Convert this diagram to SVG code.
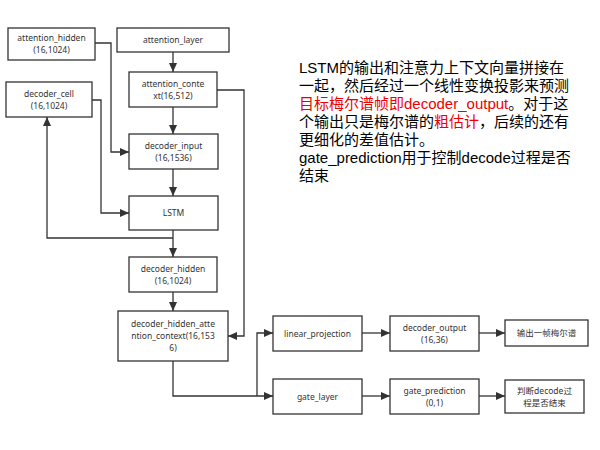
<svg xmlns="http://www.w3.org/2000/svg" width="600" height="450" viewBox="0 0 600 450">
<style>
.box{fill:#fff;stroke:#333;stroke-width:1.3}
.t{font-family:"Noto Sans","Open Sans","Noto Sans CJK SC",sans-serif;font-size:8.5px;fill:#333;text-anchor:middle}
.c{fill:none;stroke:#333;stroke-width:1.3}
.p{font-family:"Liberation Sans","Noto Sans CJK SC",sans-serif;font-size:15px;fill:#000}
.r{fill:#e00}
</style>
<defs>
<marker id="a" markerUnits="userSpaceOnUse" markerWidth="9" markerHeight="8" refX="9" refY="4" orient="auto">
<path d="M0,0 L9,4 L0,8 z" fill="#333"/>
</marker>
</defs>
<rect width="600" height="450" fill="#fff"/>
<g id="connectors">
<path class="c" d="M173,52 V72" marker-end="url(#a)"/>
<path class="c" d="M173,107 V134" marker-end="url(#a)"/>
<path class="c" d="M173,169 V196" marker-end="url(#a)"/>
<path class="c" d="M173,230 V257" marker-end="url(#a)"/>
<path class="c" d="M173,292 V311" marker-end="url(#a)"/>
<path class="c" d="M95,43 H111 V152 H129" marker-end="url(#a)"/>
<path class="c" d="M92,100 H101 V213 H129" marker-end="url(#a)"/>
<path class="c" d="M173,238 H47 V117" marker-end="url(#a)"/>
<path class="c" d="M217,90 H244 V336 H228" marker-end="url(#a)"/>
<path class="c" d="M173,361 V396 H273" marker-end="url(#a)"/>
<path class="c" d="M257,396 V333 H273" marker-end="url(#a)"/>
<path class="c" d="M362,333 H390" marker-end="url(#a)"/>
<path class="c" d="M479,333 H505" marker-end="url(#a)"/>
<path class="c" d="M362,396 H390" marker-end="url(#a)"/>
<path class="c" d="M479,396 H505" marker-end="url(#a)"/>
</g>
<g id="attention_hidden"><rect class="box" x="8" y="28" width="87" height="32"/><text class="t" x="51.5" y="41">attention_hidden</text><text class="t" x="51.5" y="53">(16,1024)</text></g>
<g id="attention_layer"><rect class="box" x="117" y="28" width="112" height="24"/><text class="t" x="173" y="43">attention_layer</text></g>
<g id="attention_context"><rect class="box" x="129" y="72" width="88" height="35"/><text class="t" x="173" y="86.5">attention_conte</text><text class="t" x="173" y="98.5">xt(16,512)</text></g>
<g id="decoder_cell"><rect class="box" x="6" y="82" width="86" height="35"/><text class="t" x="49" y="96.5">decoder_cell</text><text class="t" x="49" y="108.5">(16,1024)</text></g>
<g id="decoder_input"><rect class="box" x="129" y="134" width="89" height="35"/><text class="t" x="173.5" y="148.5">decoder_input</text><text class="t" x="173.5" y="160.5">(16,1536)</text></g>
<g id="lstm"><rect class="box" x="129" y="196" width="89" height="34"/><text class="t" x="173.5" y="216">LSTM</text></g>
<g id="decoder_hidden"><rect class="box" x="129" y="257" width="88" height="35"/><text class="t" x="173" y="271.5">decoder_hidden</text><text class="t" x="173" y="283.5">(16,1024)</text></g>
<g id="decoder_hidden_attention_context"><rect class="box" x="118" y="311" width="110" height="50"/><text class="t" x="173" y="327">decoder_hidden_atte</text><text class="t" x="173" y="339">ntion_context(16,153</text><text class="t" x="173" y="351">6)</text></g>
<g id="linear_projection"><rect class="box" x="273" y="316" width="89" height="35"/><text class="t" x="317.5" y="337">linear_projection</text></g>
<g id="decoder_output"><rect class="box" x="390" y="316" width="89" height="35"/><text class="t" x="434.5" y="330.5">decoder_output</text><text class="t" x="434.5" y="342.5">(16,36)</text></g>
<g id="output_mel"><rect class="box" x="505" y="320" width="83" height="26"/><text class="t" x="546.5" y="336">输出一帧梅尔谱</text></g>
<g id="gate_layer"><rect class="box" x="273" y="379" width="89" height="35"/><text class="t" x="317.5" y="400">gate_layer</text></g>
<g id="gate_prediction"><rect class="box" x="390" y="379" width="89" height="35"/><text class="t" x="434.5" y="393.5">gate_prediction</text><text class="t" x="434.5" y="405.5">(0,1)</text></g>
<g id="judge_end"><rect class="box" x="505" y="380" width="79" height="33"/><text class="t" x="544.5" y="393.5">判断decode过</text><text class="t" x="544.5" y="405.5">程是否结束</text></g>
<g id="note">
<text class="p" x="299" y="73">LSTM的输出和注意力上下文向量拼接在</text>
<text class="p" x="299" y="91">一起，然后经过一个线性变换投影来预测</text>
<text class="p" x="299" y="109"><tspan class="r">目标梅尔谱帧即decoder_output</tspan>。对于这</text>
<text class="p" x="299" y="127">个输出只是梅尔谱的<tspan class="r">粗估计</tspan>，后续的还有</text>
<text class="p" x="299" y="145">更细化的差值估计。</text>
<text class="p" x="299" y="163">gate_prediction用于控制decode过程是否</text>
<text class="p" x="299" y="181">结束</text>
</g>
</svg>
